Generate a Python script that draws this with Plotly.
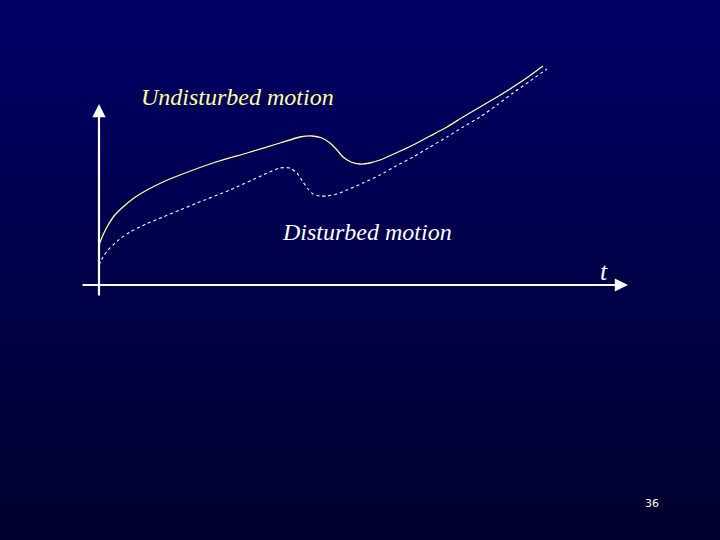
import plotly.graph_objects as go

# curve samples (x to the right, y downwards in slide pixels)
undisturbed_x = [99, 103, 107, 114, 123, 134, 147, 163, 180, 213, 247, 280, 300, 312, 322, 330, 337, 343, 351, 360, 370, 380, 396, 413, 430, 447, 463, 480, 497, 513, 528, 543]
undisturbed_y = [245, 235, 227, 216, 207, 198, 190, 182, 175, 163, 153, 143, 137, 136, 138, 143, 150, 157, 162, 164, 163, 160, 153, 145, 136, 127, 117, 107, 97, 87, 77, 66]

disturbed_x = [99, 103, 108, 113, 121, 130, 146, 163, 180, 197, 230, 263, 280, 290, 297, 303, 308, 313, 320, 327, 337, 347, 363, 380, 396, 413, 430, 447, 463, 480, 497, 513, 530, 547]
disturbed_y = [265, 257, 250, 245, 238, 232, 224, 217, 210, 203, 190, 175, 168, 168, 173, 182, 189, 194, 196, 196, 194, 190, 183, 175, 166, 157, 147, 137, 127, 117, 105, 93, 81, 69]

labels = ["Undisturbed motion", "Disturbed motion", "t"]
page_number = "36"

W, H = 720, 540
TOP = (0, 0, 102)
BOTTOM = (0, 0, 45)

fig = go.Figure()

fig.add_trace(go.Scatter(
    x=undisturbed_x, y=undisturbed_y, mode="lines",
    line=dict(color="#ffff99", width=1.3, shape="spline", smoothing=0.6),
    hoverinfo="skip",
))
fig.add_trace(go.Scatter(
    x=disturbed_x, y=disturbed_y, mode="lines",
    line=dict(color="#ffffff", width=1.1, dash="3px,3px", shape="spline", smoothing=0.6),
    hoverinfo="skip",
))

# background gradient, drawn as thin bands
shapes = []
n = 90
for i in range(n):
    f = i / (n - 1)
    c = tuple(round(TOP[k] + (BOTTOM[k] - TOP[k]) * f) for k in range(3))
    shapes.append(dict(
        type="rect", xref="x", yref="y", layer="below",
        x0=0, x1=W, y0=i * H / n, y1=(i + 1) * H / n + 1,
        fillcolor="rgb(%d,%d,%d)" % c, line=dict(width=0),
    ))

annotations = []
# axes with arrow heads
annotations.append(dict(
    x=99, y=104, ax=99, ay=297, xref="x", yref="y", axref="x", ayref="y",
    showarrow=True, arrowhead=2, arrowsize=1.2, arrowwidth=2.2, arrowcolor="white", text="",
))
annotations.append(dict(
    x=628, y=285, ax=81, ay=285, xref="x", yref="y", axref="x", ayref="y",
    showarrow=True, arrowhead=2, arrowsize=1.2, arrowwidth=2.2, arrowcolor="white", text="",
))

serif = "Liberation Serif, Times New Roman, serif"
annotations.append(dict(
    x=139, y=97, xref="x", yref="y", xanchor="left", yanchor="middle",
    text="<i>%s</i>" % labels[0], showarrow=False,
    font=dict(family=serif, size=24, color="#ffff99"),
))
annotations.append(dict(
    x=280, y=232, xref="x", yref="y", xanchor="left", yanchor="middle",
    text="<i>%s</i>" % labels[1], showarrow=False,
    font=dict(family=serif, size=24, color="white"),
))
annotations.append(dict(
    x=604, y=271, xref="x", yref="y", xanchor="center", yanchor="middle",
    text="<i>%s</i>" % labels[2], showarrow=False,
    font=dict(family=serif, size=26, color="white"),
))
annotations.append(dict(
    x=652, y=503, xref="x", yref="y", xanchor="center", yanchor="middle",
    text=page_number, showarrow=False,
    font=dict(family="DejaVu Sans", size=11, color="white"),
))

fig.update_layout(
    width=W, height=H,
    margin=dict(l=0, r=0, t=0, b=0),
    paper_bgcolor="rgb(0,0,70)",
    plot_bgcolor="rgb(0,0,70)",
    showlegend=False,
    shapes=shapes,
    annotations=annotations,
    xaxis=dict(range=[0, W], visible=False, fixedrange=True),
    yaxis=dict(range=[H, 0], visible=False, fixedrange=True),
)

fig.write_html("out.html", config={"displayModeBar": False},
               post_script="document.body.style.margin='0';")
